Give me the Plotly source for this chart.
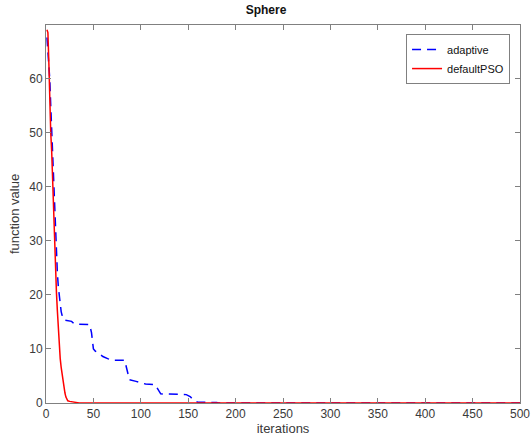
import plotly.graph_objects as go

# adaptive (blue dashed) key points
adaptive_iter = [1, 2, 3, 4, 5, 6, 8, 10, 12, 13, 14, 16, 18, 20, 27, 30, 46, 48, 50, 52, 55, 60, 65, 70, 83, 86, 88, 95, 100, 105, 115, 118, 121, 148, 152, 156, 160, 180, 182, 500]
adaptive_val = [67.6, 65.5, 63.0, 59.8, 55.0, 50.0, 40.7, 31.5, 24.0, 21.5, 20.0, 16.9, 15.5, 15.3, 15.1, 14.6, 14.5, 13.0, 10.0, 9.6, 9.3, 8.6, 8.2, 7.9, 7.9, 6.0, 4.3, 4.0, 3.7, 3.5, 3.4, 2.5, 1.7, 1.55, 1.2, 0.5, 0.15, 0.1, 0.0, 0.0]

# defaultPSO (red solid)
default_iter = [1, 2, 3, 4, 5, 6, 7, 8, 9, 10, 11, 12, 13, 14, 15, 16, 17, 18, 19, 20, 21, 22, 23, 25, 28, 30, 35, 500]
default_val = [69.0, 68.5, 63.0, 55.0, 50.0, 46.5, 41.0, 35.0, 29.0, 24.0, 20.5, 17.0, 13.5, 10.5, 8.2, 6.6, 5.2, 4.0, 2.8, 1.85, 1.1, 0.6, 0.4, 0.3, 0.25, 0.1, 0.02, 0.0]

x_ticks = [0, 50, 100, 150, 200, 250, 300, 350, 400, 450, 500]
y_ticks = [0, 10, 20, 30, 40, 50, 60]

fig = go.Figure()
fig.add_trace(go.Scatter(x=adaptive_iter, y=adaptive_val, mode="lines", name="adaptive",
                         line=dict(color="#0000FF", width=1.5, dash="9px,6px")))
fig.add_trace(go.Scatter(x=default_iter, y=default_val, mode="lines", name="defaultPSO",
                         line=dict(color="#FF0000", width=1.5)))

axis_common = dict(showline=True, linecolor="#808080", linewidth=1, mirror="ticks",
                   ticks="inside", ticklen=5, tickcolor="#808080", showgrid=False, zeroline=False,
                   ticklabeloverflow="allow",
                   tickfont=dict(size=12, color="#3a3a3a"))

fig.update_layout(
    width=532, height=439,
    margin=dict(l=46, r=12, t=25, b=36),
    paper_bgcolor="white", plot_bgcolor="white",
    font=dict(family="Liberation Sans, Arial, sans-serif", color="#262626"),
    title=dict(text="<b>Sphere</b>", x=0.5, xanchor="center", y=0.977, yanchor="middle",
               font=dict(size=12, color="#111111")),
    xaxis=dict(range=[0, 500], tickvals=x_ticks,
               title=dict(text="iterations", font=dict(size=13, color="#3a3a3a"), standoff=2),
               automargin=False, **axis_common),
    yaxis=dict(range=[0, 69.9], tickvals=y_ticks,
               title=dict(text="function value", font=dict(size=13, color="#3a3a3a"), standoff=6),
               automargin=False, **axis_common),
    legend=dict(x=0.979, y=0.976, xanchor="right", yanchor="top", bordercolor="#808080",
                borderwidth=1, bgcolor="white", font=dict(size=11, color="#111111"),
                tracegroupgap=0, itemwidth=30),
    showlegend=True,
)

fig.write_html("out.html")
